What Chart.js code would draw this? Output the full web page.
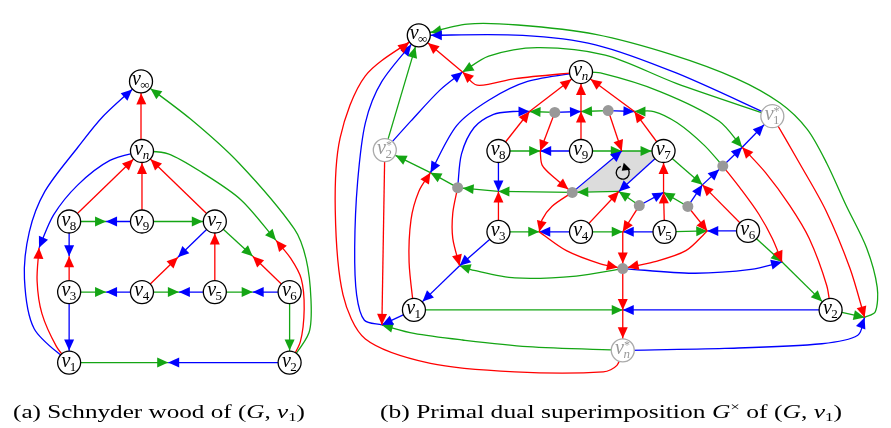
<!DOCTYPE html>
<html>
<head>
<meta charset="utf-8">
<script src="https://cdn.jsdelivr.net/npm/chart.js@4.4.1/dist/chart.umd.min.js"></script>
<style>
  html, body { margin: 0; padding: 0; background: #fff; }
  canvas { display: block; }
</style>
</head>
<body>
<canvas id="schnyder-chart" width="891" height="428"></canvas>
<script>
// vertices: A* = drawing (a), B* = primal of (b), S* = dual vertices, f* = faces, others = edge middles
const nodeNames = ['Ainf','An','A8','A9','A7','A3','A4','A5','A6','A1','A2',
  'a89','a83','a74','a76','a34','a45','a56','a12','an1','an2',
  'Binf','Bn','B8','B9','B7','B3','B4','B5','B6','B1','B2',
  'S1','S2','Sn',
  'f1','f2','f3','f4','f5','f6','f7','f8',
  'bn8','bn9','bn7','b89','b97','b83','b74','b75','b34','b45','b56','b76','bn2','b62','b31','b12','bni','bn1','b1i','b2i'];
const nodeX = [132,133,58,133,208,58,133,208,285,58,285,
  96,58,170,247,96,171,247,160,27,271,
  418,585,500,585,670,500,585,671,757,413,842,
  782,383,628,
  558,613,576,458,645,695,731,628,
  532,585,640,543,627,500,624,670,542,628,715,710,751,792,460,628,463,430,380,877];
const nodeY = [73,147,222,222,222,297,297,297,297,372,372,
  222,259,260,259,297,297,297,372,250,242,
  24,63,147,147,147,233,233,233,232,316,316,
  110,146,359,
  106,104,191,186,205,206,163,272,
  105,105,105,147,147,190,190,191,233,233,232,183,143,265,269,316,63,170,332,324];

// oriented half edges, arrow at the second end
const redEdges = ['An>Ainf','A8>An','A9>An','A7>An','A5>A7','A3>a83','A4>a74','A6>a76','A1>an1','A2>an2',
  'Bn>bni','bni>Binf','B8>bn8','bn8>Bn','B9>bn9','bn9>Bn','B7>bn7','bn7>Bn',
  'f1>b89','f2>b97','b89>f3','f3>b34','b34>f8','f5>b45','b45>f8','f6>b56','b56>f8','f8>b12','b12>Sn','Sn>Binf',
  'B3>b83','B4>b74','B5>b75','b75>B7','B6>b76','f7>b62','B2>bn2','S1>b2i','S2>b1i','B1>bn1','f4>b31'];
const blueEdges = ['A9>a89','A8>a83','A7>a74','A4>a34','A5>a45','A6>a56','A3>A1','A2>a12','An>an1','A1>Ainf',
  'S2>bni','S1>Binf','f4>bn8','f1>bn9','f2>bn7','B9>b89','B8>b83','f3>b97','B7>b74','f5>b75',
  'B4>b34','B5>b45','B6>b56','f6>b76','b76>f7','f7>bn2','bn2>S1','Bn>bn1','B3>b31','b31>B1',
  'B1>b1i','b1i>Binf','B2>b12','f8>b62','Sn>b2i'];
const greenEdges = ['A8>a89','A9>A7','A7>a76','A3>a34','A4>a45','A5>a56','A6>A2','A1>a12','An>an2','A2>Ainf',
  'b2i>Binf','S1>bni','Bn>bn2','f7>bn7','f1>bn8','f2>bn9','B8>b89','B9>b97','b97>B7','f3>b83',
  'b83>f4','f4>bn1','bn1>S2','S2>Binf','b74>f3','f5>b74','f6>b75','B7>b76','B3>b34','B4>b45',
  'B5>b56','B6>b62','b62>B2','f8>b31','B1>b12','Sn>b1i','B2>b2i'];

// bend points of the curved edges
const bends = {
  'An>an1': [[100,157],[67,183],[42,215]],
  'A1>an1': [[45,355],[30,320],[25,285]],
  'A1>Ainf': [[22,336],[12,283],[17,233],[33,190],[67,143],[93,110]],
  'An>an2': [[160,150],[195,170],[235,199]],
  'A2>an2': [[296,350],[300,315],[297,283],[286,261]],
  'A2>Ainf': [[305,340],[307,305],[302,262],[290,230],[233,160],[183,113]],
  'Bn>bni': [[517,70],[478,77]],
  'S1>Binf': [[683,64],[600,34],[525,24]],
  'S1>bni': [[683,75],[610,45],[540,37],[490,46]],
  'Bn>bn2': [[605,64],[667,84],[727,115]],
  'f7>bn7': [[712,141],[684,117],[660,105]],
  'b2i>Binf': [[888,318],[890,292],[879,250],[858,205],[838,160],[818,124],[790,96],[745,70],[680,45],[600,23],[520,13],[468,12]],
  'S1>b2i': [[810,160],[837,210],[862,272]],
  'B2>bn2': [[838,290],[820,240],[800,205],[775,170]],
  'f7>b62': [[750,188],[768,214],[782,240]],
  'f8>b62': [[700,277],[760,273]],
  'Sn>b2i': [[733,357],[833,352],[870,343]],
  'Sn>Binf': [[622,375],[608,382],[517,382],[430,373],[363,347],[340,300],[332,210],[337,133],[363,67]],
  'Sn>b1i': [[530,355],[463,348],[413,341]],
  'b1i>Binf': [[362,327],[354,300],[352,250],[355,180],[363,117],[380,73]],
  'S2>bni': [[410,115],[440,82]],
  'Bn>bn1': [[530,73],[490,93],[457,120]],
  'B1>bn1': [[408,265],[410,220],[418,190]],
  'f4>bn8': [[462,150],[475,122],[495,108],[515,105]],
  'f4>b31': [[453,213],[453,240]],
  'f8>b31': [[580,280],[517,282],[475,274]],
  'b34>f8': [[570,253],[605,267]],
  'b56>f8': [[693,253],[660,265]],
  'b89>f3': [[545,162],[557,175]],
  'f3>b34': [[555,206],[545,220]]
};

const RED = 'rgb(255,0,0)';
const BLUE = 'rgb(0,0,255)';
const GREEN = 'rgb(20,165,20)';

function kindOf(name) {
  if (name[0] === 'A' || name[0] === 'B') return 'vertex';
  if (name[0] === 'S') return 'dual';
  if (name[0] === 'f') return 'face';
  return 'joint';
}
function endRadius(name) {
  const k = kindOf(name);
  if (k === 'vertex' || k === 'dual') return 12;
  if (k === 'face') return 5;
  return 0;
}
function pt(name) {
  const i = nodeNames.indexOf(name);
  return { x: nodeX[i], y: nodeY[i] };
}

function edgeDataset(edge, color) {
  const [from, to] = edge.split('>');
  const via = (bends[edge] || []).map(p => ({ x: p[0], y: p[1] }));
  return {
    data: [pt(from), ...via, pt(to)],
    showLine: true,
    borderColor: color,
    backgroundColor: color,
    borderWidth: 1.3,
    pointRadius: 0,
    tension: via.length ? 0.3 : 0,
    order: 2,
    clip: false,
    arrowEnd: endRadius(to)
  };
}

function nodeDataset(kind, style) {
  const pts = nodeNames.filter(n => kindOf(n) === kind).map(pt);
  return Object.assign({ data: pts, showLine: false, order: 0, clip: false }, style);
}

const datasets = [
  ...redEdges.map(e => edgeDataset(e, RED)),
  ...blueEdges.map(e => edgeDataset(e, BLUE)),
  ...greenEdges.map(e => edgeDataset(e, GREEN)),
  nodeDataset('vertex', { pointRadius: 11.5, pointBackgroundColor: '#fff', pointBorderColor: '#000', pointBorderWidth: 1.3 }),
  nodeDataset('dual', { pointRadius: 11.5, pointBackgroundColor: '#fff', pointBorderColor: '#aaa', pointBorderWidth: 1.3 }),
  nodeDataset('face', { pointRadius: 5.5, pointBackgroundColor: '#999', pointBorderColor: '#999', pointBorderWidth: 0 })
];

const SERIF = '"Liberation Serif", "DejaVu Serif", serif';

function drawLabel(ctx, x, y, sub, color, star) {
  ctx.fillStyle = color;
  ctx.textBaseline = 'alphabetic';
  ctx.textAlign = 'left';
  const subItalic = sub === 'n';
  const fv = 'italic 20px ' + SERIF;
  const fs = (subItalic ? 'italic ' : '') + '13px ' + SERIF;
  ctx.font = fv;
  const wv = ctx.measureText('v').width;
  ctx.font = fs;
  const ws = ctx.measureText(sub).width;
  const x0 = x - (wv + ws) / 2;
  ctx.font = fv;
  ctx.fillText('v', x0, y + 4);
  ctx.font = fs;
  ctx.fillText(sub, x0 + wv - 0.5, y + 8);
  if (star) {
    ctx.font = '12px ' + SERIF;
    ctx.fillText('*', x0 + wv, y - 1);
  }
}

function drawCaption(ctx, parts, left, right, base) {
  const size = 18;
  const fonts = {
    normal: size + 'px ' + SERIF,
    italic: 'italic ' + size + 'px ' + SERIF,
    sub: '12px ' + SERIF,
    sup: '12px ' + SERIF
  };
  let w = 0;
  parts.forEach(p => { ctx.font = fonts[p[1]]; w += ctx.measureText(p[0]).width; });
  ctx.save();
  ctx.translate(left, base);
  ctx.scale((right - left) / w, 1);
  ctx.fillStyle = '#000';
  ctx.textAlign = 'left';
  ctx.textBaseline = 'alphabetic';
  let x = 0;
  parts.forEach(p => {
    ctx.font = fonts[p[1]];
    const dy = p[1] === 'sub' ? 3 : p[1] === 'sup' ? -7 : 0;
    ctx.fillText(p[0], x, dy);
    x += ctx.measureText(p[0]).width;
  });
  ctx.restore();
}

const graphPlugin = {
  id: 'graphPlugin',
  beforeDatasetsDraw(chart) {
    // shaded face next to v7
    const { ctx, scales } = chart;
    const poly = ['f3', 'b97', 'B7', 'b74'].map(pt);
    ctx.save();
    ctx.beginPath();
    poly.forEach((p, i) => {
      const X = scales.x.getPixelForValue(p.x), Y = scales.y.getPixelForValue(p.y);
      if (i === 0) ctx.moveTo(X, Y); else ctx.lineTo(X, Y);
    });
    ctx.closePath();
    ctx.fillStyle = '#dcdcdc';
    ctx.fill();
    ctx.restore();
  },
  afterDatasetDraw(chart, args) {
    const ds = chart.data.datasets[args.index];
    if (ds.arrowEnd === undefined) return;
    const els = args.meta.data;
    const a = els[els.length - 2], b = els[els.length - 1];
    let dx = b.x - a.x, dy = b.y - a.y;
    const d = Math.hypot(dx, dy) || 1;
    dx /= d; dy /= d;
    const tx = b.x - dx * ds.arrowEnd, ty = b.y - dy * ds.arrowEnd;
    const len = 11, hw = 5;
    const ctx = chart.ctx;
    ctx.save();
    ctx.fillStyle = ds.borderColor;
    ctx.beginPath();
    ctx.moveTo(tx, ty);
    ctx.lineTo(tx - dx * len - dy * hw, ty - dy * len + dx * hw);
    ctx.lineTo(tx - dx * len + dy * hw, ty - dy * len - dx * hw);
    ctx.closePath();
    ctx.fill();
    ctx.restore();
  },
  afterDatasetsDraw(chart) {
    const { ctx, scales } = chart;
    ctx.save();
    nodeNames.forEach((n, i) => {
      const k = kindOf(n);
      if (k !== 'vertex' && k !== 'dual') return;
      const raw = n.slice(1);
      const sub = raw === 'inf' ? '\u221e' : raw;
      const X = scales.x.getPixelForValue(nodeX[i]), Y = scales.y.getPixelForValue(nodeY[i]);
      drawLabel(ctx, X, Y, sub, k === 'dual' ? '#999' : '#000', k === 'dual');
    });
    // rotation mark inside the shaded face
    const cx = scales.x.getPixelForValue(628), cy = scales.y.getPixelForValue(170);
    ctx.strokeStyle = '#000';
    ctx.lineWidth = 1.3;
    ctx.beginPath();
    ctx.arc(cx, cy, 6.5, -1.2, 4.4);
    ctx.stroke();
    ctx.fillStyle = '#000';
    ctx.beginPath();
    ctx.moveTo(cx + 8, cy - 3);
    ctx.lineTo(cx + 1, cy - 10);
    ctx.lineTo(cx - 1, cy - 2);
    ctx.closePath();
    ctx.fill();
    drawCaption(ctx, [['(a) Schnyder wood of (', 'normal'], ['G', 'italic'], [', ', 'normal'], ['v', 'italic'], ['1', 'sub'], [')', 'normal']], 13, 305, 418);
    drawCaption(ctx, [['(b) Primal dual superimposition ', 'normal'], ['G', 'italic'], ['\u00d7', 'sup'], [' of (', 'normal'], ['G', 'italic'], [', ', 'normal'], ['v', 'italic'], ['1', 'sub'], [')', 'normal']], 380, 842, 418);
    ctx.restore();
  }
};

new Chart(document.getElementById('schnyder-chart'), {
  type: 'scatter',
  data: { datasets },
  options: {
    responsive: false,
    animation: false,
    events: [],
    layout: { padding: 0 },
    scales: {
      x: { type: 'linear', min: 0, max: 891, display: false },
      y: { type: 'linear', min: 0, max: 428, reverse: true, display: false }
    },
    plugins: { legend: { display: false }, tooltip: { enabled: false } }
  },
  plugins: [graphPlugin]
});
</script>
</body>
</html>
